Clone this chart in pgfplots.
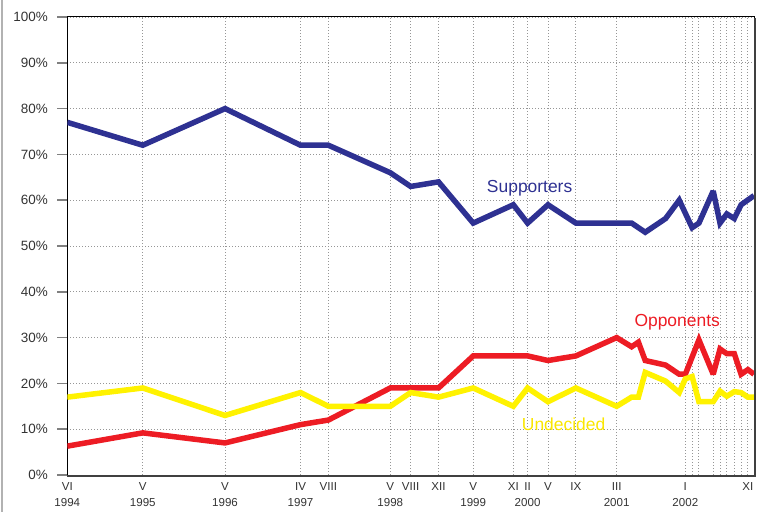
\documentclass[border=0pt]{standalone}
\usepackage{pgfplots}
\pgfplotsset{compat=1.18}
\usepackage{fontspec}
\setmainfont{Liberation Sans}
\definecolor{supp}{RGB}{46,49,146}
\definecolor{opp}{RGB}{237,28,36}
\definecolor{und}{RGB}{255,242,0}
\definecolor{undtxt}{RGB}{250,230,0}
\definecolor{gridc}{RGB}{150,150,150}
\begin{document}
\begin{tikzpicture}
\begin{axis}[
  scale only axis, width=686.7bp, height=458bp,
  at={(0,0)}, anchor=south west,
  xmin=0, xmax=101, ymin=0, ymax=100,
  axis line style={black, line width=1bp},
  xtick={0,11.1,23.2,34.3,38.4,47.5,50.5,54.6,59.7,65.6,67.7,70.7,74.8,80.8,90.9,91.9,92.9,95,96,97,98.1,99.1,100.1},
  xticklabels={{VI\\1994},{V\\1995},{V\\1996},{IV\\1997},{VIII},{V\\1998},{VIII},{XII},{V\\1999},{XI},{II\\2000},{V},{IX},{III\\2001},{I\\2002},{},{},{},{},{},{},{},{XI}},
  xticklabel style={font=\fontsize{11.6}{15.5}\selectfont, align=center, text=black!80, anchor=north, yshift=5.5bp},
  ytick={0,10,...,100},
  yticklabels={0\%,10\%,20\%,30\%,40\%,50\%,60\%,70\%,80\%,90\%,100\%},
  yticklabel style={font=\fontsize{13.5}{13.5}\selectfont, text=black!80, xshift=-6bp},
  xtick style={draw=none},
  ytick style={draw=gray, line width=1.5bp},
  major tick length=10bp,
  tick align=outside,
  xtick pos=bottom, ytick pos=left,
  grid=major,
  major grid style={draw=gridc, line width=0.9bp, dash pattern=on 1bp off 2bp},
  every axis plot/.append style={line width=5.5bp, line join=miter, miter limit=3},
]
\addplot[opp] coordinates {
(0,6.3) (11.1,9.2) (23.2,7) (34.3,11) (38.4,12) (47.5,19) (50.5,19) (54.6,19)
(59.7,26) (65.6,26) (67.7,26) (70.7,25) (74.8,26) (80.8,30) (83,28) (84,29)
(85,25) (88,24) (90,22) (90.9,22) (92.9,29.5) (95,22) (96,27.5) (97,26.5)
(98.1,26.5) (99.1,22) (100.1,23) (101,22)};
\addplot[und] coordinates {
(0,17) (11.1,19) (23.2,13) (34.3,18) (38.4,15) (47.5,15) (50.5,18) (54.6,17)
(59.7,19) (65.6,15) (67.7,19) (70.7,16) (74.8,19) (80.8,15) (83,17) (84,17)
(85,22.4) (88,20.5) (90,18) (90.9,21) (91.9,21.5) (92.9,16) (95,16) (96,18.3)
(97,17.2) (98.1,18.2) (99.1,18) (100.1,17) (101,17)};
\addplot[supp] coordinates {
(0,77) (11.1,72) (23.2,80) (34.3,72) (38.4,72) (47.5,66) (50.5,63) (54.6,64)
(59.7,55) (65.6,59) (67.7,55) (70.7,59) (74.8,55) (80.8,55) (83,55) (85,53)
(88,56) (90,60) (91.9,54) (92.9,55) (95,62) (96,55) (97,57) (98.1,56)
(99.1,59) (101,61)};
\node[font=\fontsize{17.5}{17.5}\selectfont, text=supp] at (axis cs:68,62.6) {Supporters};
\node[font=\fontsize{17.5}{17.5}\selectfont, text=opp] at (axis cs:89.7,33.3) {Opponents};
\node[font=\fontsize{17.5}{17.5}\selectfont, text=undtxt] at (axis cs:73,11.1) {Undecided};
\end{axis}
\draw[black!75, line width=2.2bp] (687.8bp,457bp) -- (687.8bp,-1.1bp) -- (0bp,-1.1bp);
\draw[gray!60, line width=2bp] (-65.5bp,-37bp) -- (-65.5bp,475bp);
\pgfresetboundingbox
\useasboundingbox (-67.3bp,-37bp) rectangle (697.7bp,475bp);
\end{tikzpicture}
\end{document}
